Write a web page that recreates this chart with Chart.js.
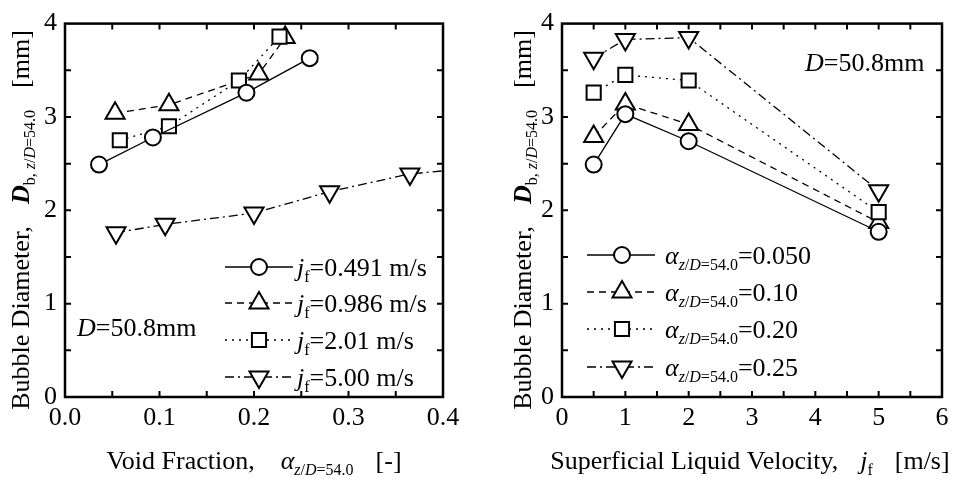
<!DOCTYPE html>
<html>
<head>
<meta charset="utf-8">
<script src="https://cdn.jsdelivr.net/npm/chart.js@4.4.0/dist/chart.umd.min.js"></script>
<style>
  html, body { margin: 0; padding: 0; background: #fff; }
  #wrap { position: relative; width: 959px; height: 479px; background: #fff; }
  #left { position: absolute; left: 0; top: 0; }
  #right { position: absolute; left: 480px; top: 0; }
</style>
</head>
<body>
<div id="wrap">
  <canvas id="left" width="480" height="479"></canvas>
  <canvas id="right" width="479" height="479"></canvas>
</div>
<script>
// ---- left panel: bubble diameter vs void fraction, one series per jf ----
const void_jf0491 = [0.036, 0.093, 0.192, 0.259];
const dia_jf0491  = [2.49, 2.78, 3.26, 3.63];
const void_jf0986 = [0.053, 0.110, 0.205, 0.233];
const dia_jf0986  = [3.04, 3.13, 3.46, 3.85];
const void_jf201  = [0.058, 0.110, 0.184, 0.227];
const dia_jf201   = [2.75, 2.90, 3.39, 3.86];
const void_jf500  = [0.054, 0.106, 0.200, 0.280, 0.365, 0.43];
const dia_jf500   = [1.76, 1.85, 1.97, 2.20, 2.39, 2.45];
const leftLabels  = ['0.491 m/s', '0.986 m/s', '2.01 m/s', '5.00 m/s'];

// ---- right panel: bubble diameter vs jf, one series per void fraction ----
const jfValues   = [0.5, 1, 2, 5];
const dia_a050   = [2.49, 3.03, 2.74, 1.77];
const dia_a010   = [2.79, 3.14, 2.92, 1.87];
const dia_a020   = [3.26, 3.45, 3.39, 1.98];
const dia_a025   = [3.63, 3.83, 3.85, 2.21];
const rightLabels = ['0.050', '0.10', '0.20', '0.25'];

const FONT = '"Liberation Serif", "Times New Roman", Times, serif';
const MAIN = 26, SUB = 16;

// marker / line style per series (circle, up triangle, square, down triangle)
const styles = [
  { pointStyle: 'circle',   rotation: 0,   radius: 8,  dash: [] },
  { pointStyle: 'triangle', rotation: 0,   radius: 11, dash: [7, 5] },
  { pointStyle: 'rect',     rotation: 0,   radius: 10, dash: [2, 5] },
  { pointStyle: 'triangle', rotation: 180, radius: 11, dash: [9, 4, 2, 4] },
];
const drawOrder = [0, 2, 1, 3];

function series(xs, ys, i, label) {
  const st = styles[i];
  return {
    label,
    data: xs.map((x, k) => ({ x, y: ys[k] })),
    showLine: true,
    order: drawOrder[i],
    borderColor: '#000',
    borderWidth: 1.3,
    borderDash: st.dash,
    pointStyle: st.pointStyle,
    pointRotation: st.rotation,
    pointRadius: st.radius,
    pointHoverRadius: st.radius,
    pointBackgroundColor: '#fff',
    pointBorderColor: '#000',
    pointBorderWidth: 2,
  };
}

// text made of runs: {t, it, b, sub} or {gap}
function fontOf(p) {
  return (p.it ? 'italic ' : '') + (p.b ? 'bold ' : '') + (p.sub ? SUB : MAIN) + 'px ' + FONT;
}
function drawRuns(ctx, parts, x, y, align) {
  let w = 0;
  parts.forEach(p => {
    if (p.gap) { w += p.gap; return; }
    ctx.font = fontOf(p);
    w += ctx.measureText(p.t).width;
  });
  let cx = align === 'center' ? x - w / 2 : x;
  ctx.textBaseline = 'alphabetic';
  ctx.textAlign = 'left';
  ctx.fillStyle = '#000';
  parts.forEach(p => {
    if (p.gap) { cx += p.gap; return; }
    ctx.font = fontOf(p);
    ctx.fillText(p.t, cx, y + (p.sub ? 6 : 0));
    cx += ctx.measureText(p.t).width;
  });
}

function legendRow(ctx, st, x1, x2, xm, y) {
  ctx.save();
  ctx.strokeStyle = '#000';
  ctx.lineWidth = 1.3;
  ctx.setLineDash(st.dash);
  ctx.beginPath();
  ctx.moveTo(x1, y);
  ctx.lineTo(x2, y);
  ctx.stroke();
  ctx.setLineDash([]);
  ctx.fillStyle = '#fff';
  ctx.lineWidth = 2;
  Chart.helpers.drawPoint(ctx, {
    pointStyle: st.pointStyle, rotation: st.rotation, radius: st.radius, borderWidth: 2
  }, xm, y);
  ctx.restore();
}

const yTitle = [
  { t: 'Bubble Diameter,' }, { gap: 22 },
  { t: 'D', it: 1, b: 1 }, { t: 'b, ', sub: 1 }, { t: 'z', it: 1, sub: 1 }, { t: '/', sub: 1 },
  { t: 'D', it: 1, sub: 1 }, { t: '=54.0', sub: 1 }, { gap: 22 }, { t: '[mm]' }
];

function drawYTitle(ctx, cx, cy) {
  ctx.save();
  ctx.translate(cx, cy);
  ctx.rotate(-Math.PI / 2);
  drawRuns(ctx, yTitle, 0, 0, 'center');
  ctx.restore();
}

// inward ticks on all four sides + heavy frame
const framePlugin = {
  id: 'frame',
  afterDatasetsDraw(chart, args, opts) {
    const { ctx, chartArea: a, scales: { x, y } } = chart;
    ctx.save();
    ctx.strokeStyle = '#000';
    ctx.lineWidth = 2;
    const L = 6;
    const nx = Math.round((x.max - x.min) / opts.xStep);
    for (let k = 1; k < nx; k++) {
      const px = x.getPixelForValue(x.min + k * opts.xStep);
      ctx.beginPath();
      ctx.moveTo(px, a.bottom); ctx.lineTo(px, a.bottom - L);
      ctx.moveTo(px, a.top); ctx.lineTo(px, a.top + L);
      ctx.stroke();
    }
    const ny = Math.round((y.max - y.min) / opts.yStep);
    for (let k = 1; k < ny; k++) {
      const py = y.getPixelForValue(y.min + k * opts.yStep);
      ctx.beginPath();
      ctx.moveTo(a.left, py); ctx.lineTo(a.left + L, py);
      ctx.moveTo(a.right, py); ctx.lineTo(a.right - L, py);
      ctx.stroke();
    }
    ctx.lineWidth = 2.5;
    ctx.strokeRect(a.left, a.top, a.right - a.left, a.bottom - a.top);
    ctx.restore();
    if (opts.extra) opts.extra(ctx, chart);
  }
};

function baseOptions(xMin, xMax, xStep, xFmt, yAxisW, padRight, xStepMinor, extra) {
  return {
    responsive: false,
    animation: false,
    events: [],
    layout: { padding: { left: 0, top: 20, right: padRight, bottom: 0 } },
    plugins: {
      legend: { display: false },
      tooltip: { enabled: false },
      frame: { xStep: xStepMinor, yStep: 0.5, extra }
    },
    scales: {
      x: {
        type: 'linear', min: xMin, max: xMax,
        grid: { display: false, drawTicks: false },
        border: { display: false },
        ticks: { stepSize: xStep, color: '#000', padding: 6, maxRotation: 0,
                 font: { family: FONT, size: MAIN }, callback: xFmt },
        afterFit: s => { s.height = 82; }
      },
      y: {
        type: 'linear', min: 0, max: 4,
        grid: { display: false, drawTicks: false },
        border: { display: false },
        ticks: { stepSize: 1, color: '#000', padding: 8,
                 font: { family: FONT, size: MAIN } },
        afterFit: s => { s.width = yAxisW; }
      }
    }
  };
}

// left chart
new Chart(document.getElementById('left'), {
  type: 'scatter',
  data: {
    datasets: [
      series(void_jf0491, dia_jf0491, 0, leftLabels[0]),
      series(void_jf0986, dia_jf0986, 1, leftLabels[1]),
      series(void_jf201,  dia_jf201,  2, leftLabels[2]),
      series(void_jf500,  dia_jf500,  3, leftLabels[3]),
    ]
  },
  options: baseOptions(0, 0.4, 0.1, v => v.toFixed(1), 65, 37, 0.05, (ctx) => {
    const rows = [267, 303, 340, 377];
    rows.forEach((ry, i) => {
      legendRow(ctx, styles[i], 225, 293, 259, ry);
      drawRuns(ctx, [{ t: 'j', it: 1 }, { t: 'f', sub: 1 }, { t: '=' + leftLabels[i] }], 297, ry + 9, 'left');
    });
    drawRuns(ctx, [{ t: 'D', it: 1 }, { t: '=50.8mm' }], 77, 336, 'left');
    drawRuns(ctx, [{ t: 'Void Fraction,' }, { gap: 26 }, { t: 'α', it: 1 },
      { t: 'z', it: 1, sub: 1 }, { t: '/', sub: 1 }, { t: 'D', it: 1, sub: 1 }, { t: '=54.0', sub: 1 },
      { gap: 22 }, { t: '[-]' }], 254, 469, 'center');
    drawYTitle(ctx, 21 + 8, 220);
  }),
  plugins: [framePlugin]
});

// right chart
new Chart(document.getElementById('right'), {
  type: 'scatter',
  data: {
    datasets: [
      series(jfValues, dia_a050, 0, rightLabels[0]),
      series(jfValues, dia_a010, 1, rightLabels[1]),
      series(jfValues, dia_a020, 2, rightLabels[2]),
      series(jfValues, dia_a025, 3, rightLabels[3]),
    ]
  },
  options: baseOptions(0, 6, 1, v => String(v), 82, 17, 0.5, (ctx) => {
    const rows = [255, 292, 329, 367];
    rows.forEach((ry, i) => {
      legendRow(ctx, styles[i], 107, 175, 142, ry);
      drawRuns(ctx, [{ t: 'α', it: 1 }, { t: 'z', it: 1, sub: 1 }, { t: '/', sub: 1 },
        { t: 'D', it: 1, sub: 1 }, { t: '=54.0', sub: 1 }, { t: '=' + rightLabels[i] }], 185, ry + 9, 'left');
    });
    drawRuns(ctx, [{ t: 'D', it: 1 }, { t: '=50.8mm' }], 325, 71, 'left');
    drawRuns(ctx, [{ t: 'Superficial Liquid Velocity,' }, { gap: 22 }, { t: 'j', it: 1 },
      { t: 'f', sub: 1 }, { gap: 22 }, { t: '[m/s]' }], 270, 469, 'center');
    drawYTitle(ctx, 43 + 8, 220);
  }),
  plugins: [framePlugin]
});
</script>
</body>
</html>
